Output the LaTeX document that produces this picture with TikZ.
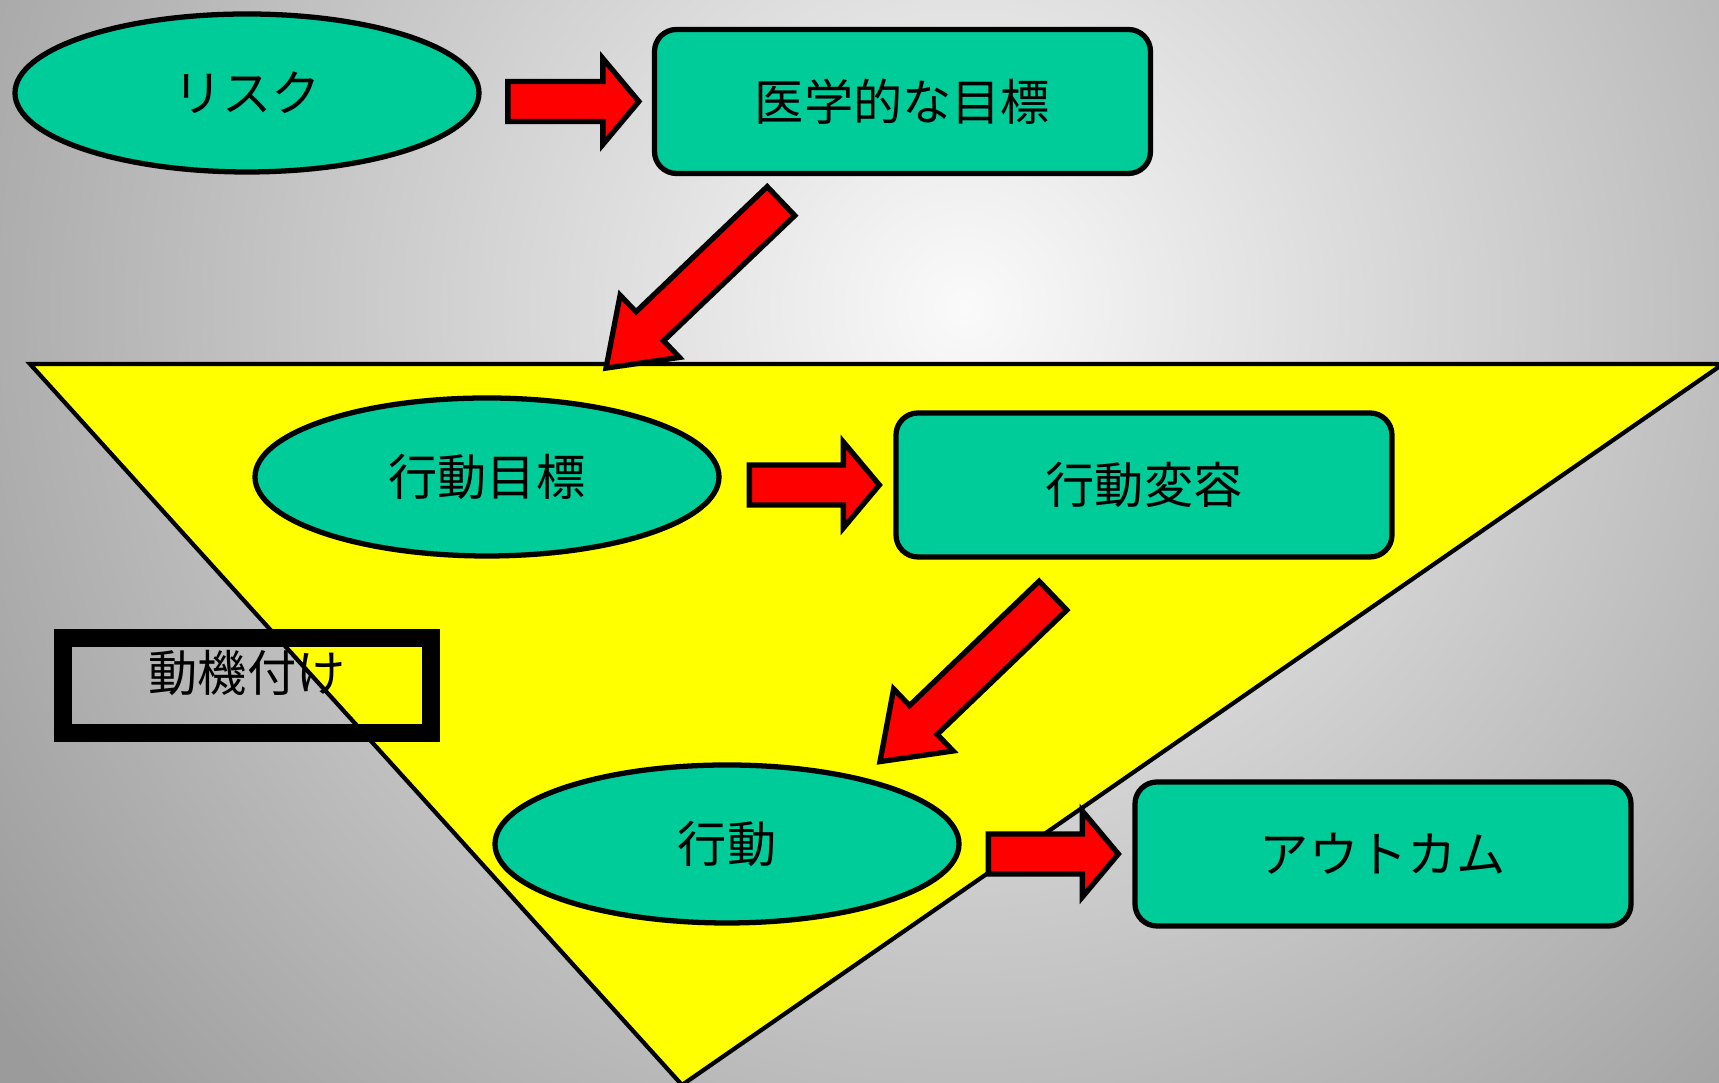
\documentclass[tikz,border=0pt]{standalone}
\usepackage{fontspec}
\newfontfamily\jpfont{Noto Sans CJK JP}
\usetikzlibrary{shapes.geometric,positioning,calc}

\definecolor{boxgreen}{RGB}{0,204,153}
\definecolor{funnelyellow}{RGB}{255,255,0}
\definecolor{arrowred}{RGB}{255,0,0}
\definecolor{bglight}{RGB}{250,250,250}
\definecolor{bgdark}{RGB}{155,155,155}

% block arrow from #1 to #2, head length #3
\newcommand\fatarrow[3]{%
  \draw[fatarr] let \p1=($(#2)-(#1)$), \n1={atan2(\y1,\x1)}, \n2={veclen(\x1,\y1)} in
    ($(#1)+(\n1+90:0.2cm)$) -- ($(#1)+(\n1:\n2-#3)+(\n1+90:0.2cm)$)
    -- ($(#1)+(\n1:\n2-#3)+(\n1+90:0.43cm)$) -- (#2)
    -- ($(#1)+(\n1:\n2-#3)+(\n1-90:0.43cm)$) -- ($(#1)+(\n1:\n2-#3)+(\n1-90:0.2cm)$)
    -- ($(#1)+(\n1-90:0.2cm)$) -- cycle;}

\begin{document}
\begin{tikzpicture}[
    jptext/.style={font=\jpfont\fontsize{14}{17}\selectfont},
    stepell/.style={ellipse, draw, line width=1.5pt, fill=boxgreen, jptext,
        minimum width=4.64cm, minimum height=1.58cm, inner sep=0pt},
    stepbox/.style={rectangle, rounded corners=0.22cm, draw, line width=1.5pt,
        fill=boxgreen, jptext, minimum width=4.96cm, minimum height=1.44cm},
    motivbox/.style={rectangle, draw, line width=0.18cm, jptext,
        minimum width=3.68cm, minimum height=0.95cm, text depth=0.3cm},
    fatarr/.style={draw, fill=arrowred, line width=1.5pt, line join=miter},
    funnel/.style={draw, fill=funnelyellow, line width=1.2pt}]

    %Background
    \useasboundingbox (0,0) rectangle (17.19,10.83);
    \clip (0,0) rectangle (17.19,10.83);
    \fill[inner color=bglight, outer color=bgdark] (-2.35,-4.24) rectangle (21.65,19.76);

    %Funnel
    \draw[funnel] (0.30,7.19) -- (17.23,7.19) -- (6.82,-0.02) -- cycle;

    %Steps
    \node[stepell] (risk) at (2.47,9.90) {リスク};
    \node[stepbox] (medgoal) at (9.025,9.815) {医学的な目標};
    \node[stepell] (behgoal) at (4.87,6.06) {行動目標};
    \node[stepbox] (change) at (11.44,5.98) {行動変容};
    \node[stepell] (action) at (7.27,2.39) {行動};
    \node[stepbox] (outcome) at (13.83,2.29) {アウトカム};
    \node[motivbox] (motiv) at (2.47,3.975) {動機付け};

    %Arrow ends
    \coordinate (a1s) at ([xshift=-1.44cm]medgoal.west);
    \coordinate (a1e) at ([xshift=-0.13cm]medgoal.west);
    \coordinate (d1s) at ([shift={(-1.215,-0.25)}]medgoal.south);
    \coordinate (d1e) at ([shift={(-2.965,-1.92)}]medgoal.south);
    \coordinate (a2s) at ([xshift=-1.44cm]change.west);
    \coordinate (a2e) at ([xshift=-0.14cm]change.west);
    \coordinate (d2s) at ([shift={(-0.91,-0.36)}]change.south);
    \coordinate (d2e) at ([shift={(-2.64,-2.02)}]change.south);
    \coordinate (a3s) at ([xshift=-1.44cm]outcome.west);
    \coordinate (a3e) at ([xshift=-0.14cm]outcome.west);

    %Arrows
    \foreach \s/\e/\h in {a1s/a1e/0.36cm, a2s/a2e/0.36cm, a3s/a3e/0.36cm,
                          d1s/d1e/0.6cm, d2s/d2e/0.6cm}
    \fatarrow{\s}{\e}{\h};

\end{tikzpicture}
\end{document}
